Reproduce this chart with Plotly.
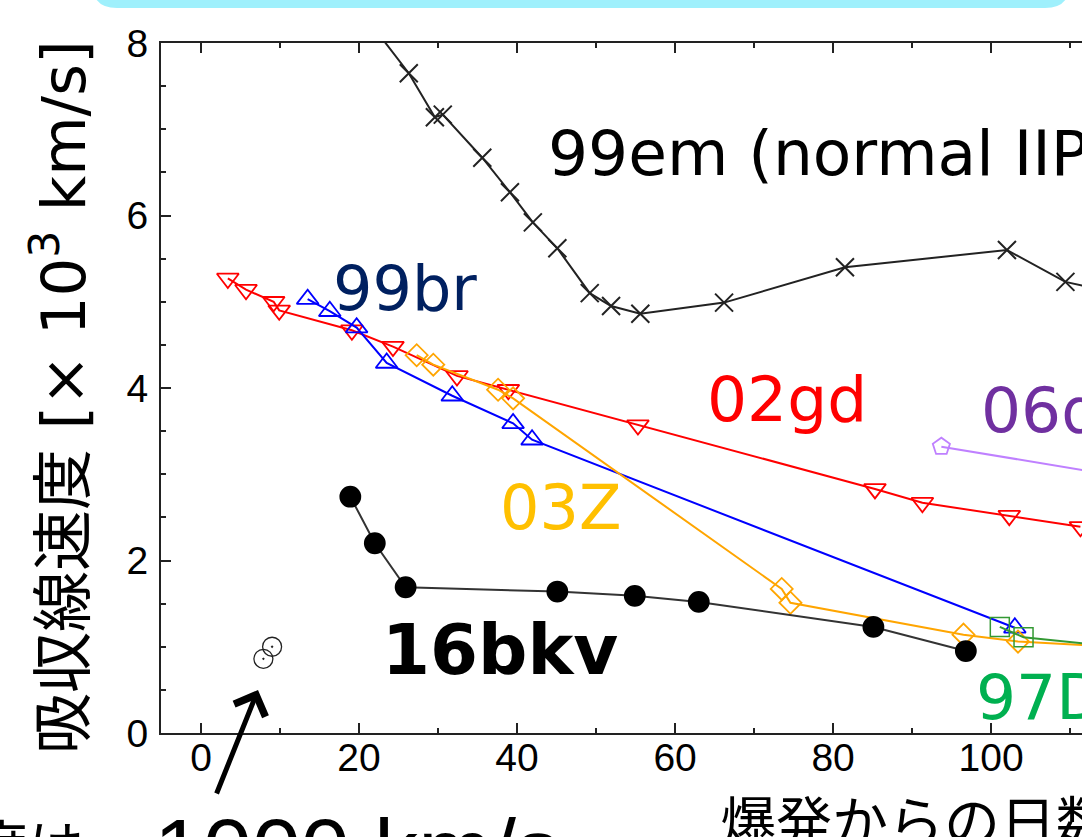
import plotly.graph_objects as go

# ---------------- data ----------------
sn99em_day = [20.0, 26.3, 29.6, 30.6, 35.6, 39.1, 42.0, 45.1, 49.2, 51.9, 55.6, 66.2, 81.5, 102.0, 109.4, 116.0]
sn99em_vel = [8.40, 7.65, 7.14, 7.17, 6.67, 6.27, 5.92, 5.62, 5.10, 4.95, 4.86, 4.99, 5.40, 5.60, 5.23, 5.10]

sn02gd_day = [3.4, 5.7, 9.2, 9.9, 19.1, 24.3, 32.4, 38.9, 55.3, 85.3, 91.3, 102.3, 111.3]
sn02gd_vel = [5.27, 5.14, 5.00, 4.90, 4.67, 4.48, 4.14, 3.98, 3.57, 2.83, 2.67, 2.52, 2.39]

sn99br_day = [13.5, 16.3, 19.7, 23.5, 31.8, 39.5, 41.9, 103.0]
sn99br_vel = [5.03, 4.89, 4.70, 4.29, 3.91, 3.59, 3.40, 1.22]

sn03z_day = [27.3, 29.4, 37.6, 39.5, 73.5, 74.6, 96.5, 103.4, 118.0]
sn03z_vel = [4.38, 4.27, 3.98, 3.88, 1.67, 1.51, 1.14, 1.06, 0.99]

sn97d_day = [101.1, 104.1, 118.0]
sn97d_vel = [1.23, 1.11, 0.98]

sn06d_day = [93.7, 120.0]
sn06d_vel = [3.32, 2.92]

sn16bkv_day = [18.9, 22.0, 25.9, 45.1, 54.9, 63.0, 85.1, 96.8]
sn16bkv_vel = [2.74, 2.20, 1.69, 1.64, 1.59, 1.52, 1.23, 0.95]

sn16bkv_early_day = [7.9, 9.0]
sn16bkv_early_vel = [0.86, 1.00]

x_ticks = [0, 20, 40, 60, 80, 100]
y_ticks = [0, 2, 4, 6, 8]

y_title = "吸収線速度 [× 10<sup>3</sup> km/s]"
x_title = "爆発からの日数"
note_jp = "速度は"
note_val = "1000 km/s"

# ---------------- layout geometry ----------------
W, H = 1082, 837
L, T, B, R = 161, 43, 104, 0
PW = W - L - R
PH = H - T - B


def px(xp):
    return (xp - L) / PW


def py(yp):
    return (H - B - yp) / PH


LATIN = "DejaVu Sans, Noto Sans CJK JP, sans-serif"
CJK = "Noto Sans CJK JP, DejaVu Sans, sans-serif"
TICKF = "Liberation Sans, Arial, sans-serif"

fig = go.Figure()


def add_series(xs, ys, color, symbol, size, lw=2, mlw=1.8, mcolor=None):
    fig.add_trace(go.Scatter(
        x=xs, y=ys, mode="lines+markers",
        line=dict(color=color, width=lw),
        marker=dict(symbol=symbol, size=size, color=mcolor or color,
                    line=dict(color=mcolor or color, width=mlw)),
        showlegend=False, hoverinfo="skip"))


add_series(sn99em_day, sn99em_vel, "#222222", "x-thin-open", 18, lw=2, mlw=2)
add_series(sn02gd_day, sn02gd_vel, "#ff0000", "triangle-down-open", 19)
add_series(sn99br_day, sn99br_vel, "#0000ff", "triangle-up-open", 19)
add_series(sn03z_day, sn03z_vel, "#ffa500", "diamond-open", 17)
add_series(sn97d_day, sn97d_vel, "#339933", "square-open", 19, mlw=1.5)
add_series(sn06d_day, sn06d_vel, "#bf80ff", "pentagon-open", 18)
add_series(sn16bkv_day, sn16bkv_vel, "#333333", "circle", 20, mcolor="#000000")

fig.add_trace(go.Scatter(
    x=sn16bkv_early_day, y=sn16bkv_early_vel, mode="markers",
    marker=dict(symbol="circle-open-dot", size=19, color="#222222",
                line=dict(color="#222222", width=1.3)),
    showlegend=False, hoverinfo="skip"))

ann = []


def label(text, x_left, y_mid, color, size, family=LATIN, bold=False):
    ann.append(dict(
        text=("<b>%s</b>" % text) if bold else text,
        xref="paper", yref="paper", x=px(x_left), y=py(y_mid),
        xanchor="left", yanchor="middle", showarrow=False,
        font=dict(family=family, size=size, color=color)))


label("99em (normal IIP)", 546, 153, "#000000", 63)
label("99br", 331, 288, "#002060", 62)
label("02gd", 705, 399, "#ff0000", 63)
label("06d", 979, 410, "#7030a0", 63)
label("03Z", 498, 507, "#ffc000", 62)
label("16bkv", 380, 650, "#000000", 69, bold=True)
label("97D", 974, 697, "#00b050", 63)

# y axis title (rotated)
ann.append(dict(text=y_title, xref="paper", yref="paper", x=px(59), y=py(397),
                xanchor="center", yanchor="middle", textangle=-90, showarrow=False,
                font=dict(family=LATIN, size=61, color="#000000")))
# x axis title (cut off at the bottom)
ann.append(dict(text=x_title, xref="paper", yref="paper", x=px(718), y=py(776),
                xanchor="left", yanchor="top", showarrow=False,
                font=dict(family=CJK, size=56, color="#000000")))
# bottom note
ann.append(dict(text=note_jp, xref="paper", yref="paper", x=px(86), y=py(800),
                xanchor="right", yanchor="top", showarrow=False,
                font=dict(family=CJK, size=56, color="#000000")))
ann.append(dict(text=note_val, xref="paper", yref="paper", x=px(152), y=py(798),
                xanchor="left", yanchor="top", showarrow=False,
                font=dict(family=TICKF, size=88, color="#000000")))
# arrow
ann.append(dict(text="", xref="paper", yref="paper", x=px(258), y=py(690),
                ax=216 - 258, ay=795 - 690, showarrow=True, arrowhead=4,
                arrowsize=1.3, arrowwidth=5, arrowcolor="#000000"))

# cyan banner at the top (cut off)
bx0, bx1, bb, r = 92, 1070, 8, 25
xr = r / PW
yr = r / PH
path = (f"M{px(bx0)},{py(-40)} L{px(bx0)},{py(bb) + yr} "
        f"Q{px(bx0)},{py(bb)} {px(bx0) + xr},{py(bb)} "
        f"L{px(bx1) - xr},{py(bb)} Q{px(bx1)},{py(bb)} {px(bx1)},{py(bb) + yr} "
        f"L{px(bx1)},{py(-40)} Z")

fig.update_layout(
    width=W, height=H,
    margin=dict(l=L, r=R, t=T, b=B, pad=0),
    paper_bgcolor="white", plot_bgcolor="white",
    annotations=ann,
    shapes=[dict(type="path", path=path, xref="paper", yref="paper",
                 fillcolor="#9ff0fc", line=dict(width=0), layer="above")],
    xaxis=dict(range=[-5.06, 111.5], tickvals=x_ticks, ticks="inside", ticklen=10,
               tickwidth=2, tickcolor="#222222", showline=True, linecolor="#222222",
               linewidth=2, mirror="ticks", showgrid=False, zeroline=False,
               tickfont=dict(family=TICKF, size=39, color="#000000"),
               ticklabelstandoff=-11,
               minor=dict(dtick=10, tick0=0, ticks="inside", ticklen=5, tickwidth=2,
                          tickcolor="#222222", showgrid=False)),
    yaxis=dict(range=[0, 8], tickvals=y_ticks, ticks="inside", ticklen=10,
               tickwidth=2, tickcolor="#222222", showline=True, linecolor="#222222",
               linewidth=2, mirror=False, showgrid=False, zeroline=False,
               tickfont=dict(family=TICKF, size=39, color="#000000"),
               ticklabelstandoff=3,
               minor=dict(dtick=0.5, tick0=0, ticks="inside", ticklen=5, tickwidth=2,
                          tickcolor="#222222", showgrid=False)),
)

fig.write_html("out.html",
               config={"displayModeBar": False},
               post_script="document.body.style.margin='0';"
                           "document.body.style.overflow='hidden';")
